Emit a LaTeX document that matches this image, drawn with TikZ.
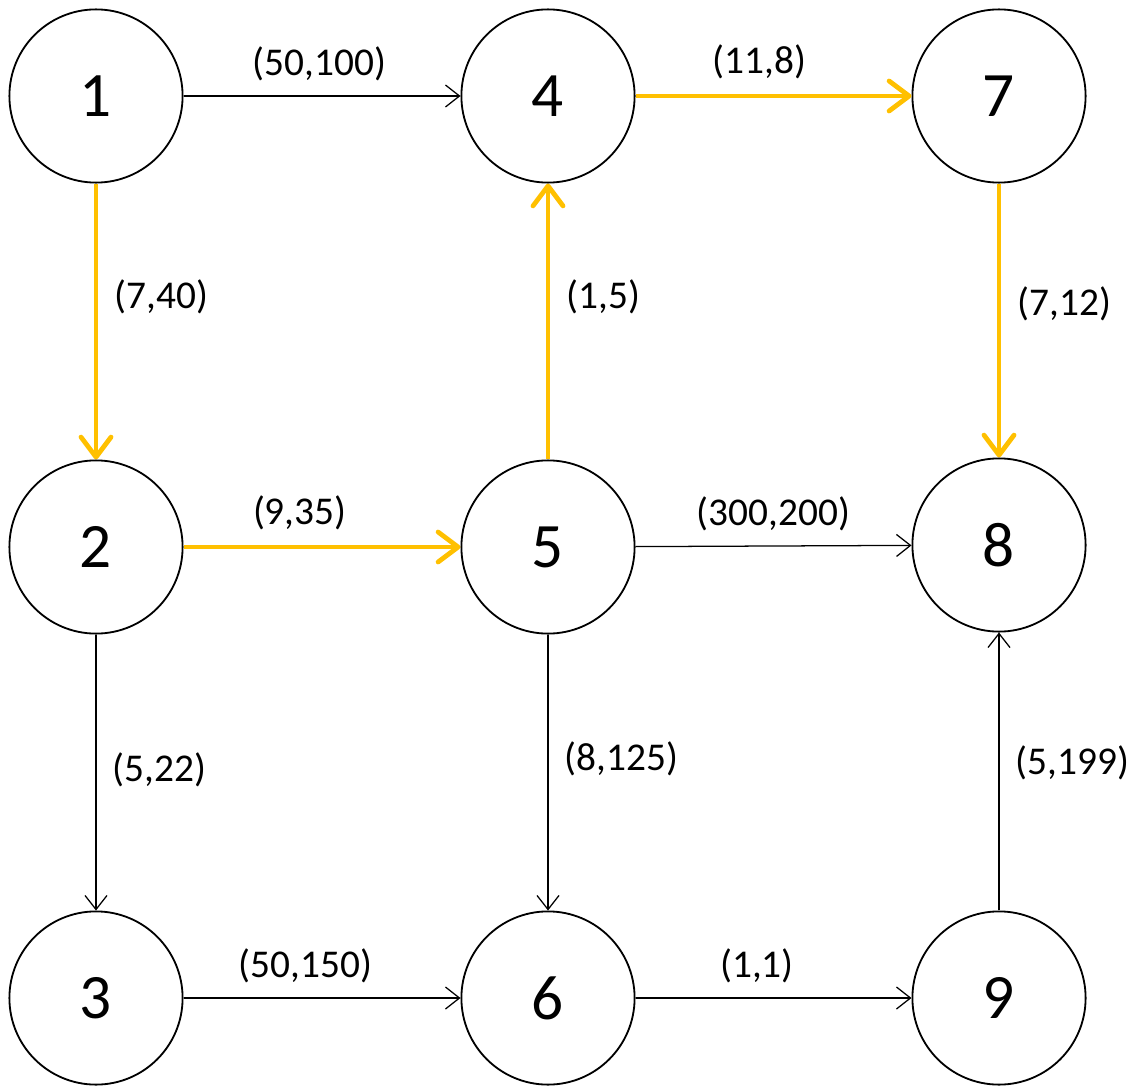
\documentclass[tikz,border=0pt]{standalone}
\usepackage{fontspec}
\setmainfont{Carlito}
\usetikzlibrary{arrows.meta}
\definecolor{pathgold}{rgb}{1.0,0.75294118,0.0}

\begin{document}
\begin{tikzpicture}[
  vertex/.style={circle, draw=black, line width=1.3pt, fill=white, minimum size=4.33cm, inner sep=0pt, font=\fontsize{45}{54}\selectfont},
  normaledge/.style={-{Straight Barb[length=3.5mm, width=5.5mm]}, line width=0.9pt},
  pathedge/.style={-{Straight Barb[length=5mm, width=7.5mm, round]}, line width=3.4pt, draw=pathgold},
  cost/.style={font=\fontsize{28}{34}\selectfont, inner sep=3pt},
]
\useasboundingbox (0,0) rectangle (28.525,-27.225);

% ---- grid of vertices ----
\node[vertex] (n1) at (2.4, -2.4)      {1};
\node[vertex] (n4) at (13.7, -2.4)     {4};
\node[vertex] (n7) at (24.975, -2.4)   {7};
\node[vertex] (n2) at (2.4, -13.675)   {2};
\node[vertex] (n5) at (13.7, -13.675)  {5};
\node[vertex] (n8) at (24.975, -13.625) {8};
\node[vertex] (n3) at (2.4, -24.95)    {3};
\node[vertex] (n6) at (13.7, -24.95)   {6};
\node[vertex] (n9) at (24.975, -24.95) {9};

% ---- ordinary edges ----
\draw[normaledge] (n1) -- node[cost, pos=0.49, above=0.25cm] {(50,100)} (n4);
\draw[normaledge] (n5) -- node[cost, pos=0.5, above=0.25cm]  {(300,200)} (n8);
\draw[normaledge] (n3) -- node[cost, pos=0.44, above=0.25cm] {(50,150)} (n6);
\draw[normaledge] (n6) -- node[cost, pos=0.44, above=0.25cm] {(1,1)} (n9);
\draw[normaledge] (n2) -- node[cost, pos=0.49, right=0.3cm]  {(5,22)} (n3);
\draw[normaledge] (n5) -- node[cost, pos=0.45, right=0.3cm]  {(8,125)} (n6);
\draw[normaledge] (n9) -- node[cost, pos=0.53, right=0.3cm]  {(5,199)} (n8);

% ---- shortest path 1-2-5-4-7-8 ----
\draw[pathedge] (n1) -- node[cost, pos=0.41, right=0.3cm]  {(7,40)} (n2);
\draw[pathedge] (n2) -- node[cost, pos=0.42, above=0.25cm] {(9,35)} (n5);
\draw[pathedge] (n5) -- node[cost, pos=0.59, right=0.3cm]  {(1,5)} (n4);
\draw[pathedge] (n4) -- node[cost, pos=0.45, above=0.25cm] {(11,8)} (n7);
\draw[pathedge] (n7) -- node[cost, pos=0.44, right=0.3cm]  {(7,12)} (n8);

\end{tikzpicture}
\end{document}
